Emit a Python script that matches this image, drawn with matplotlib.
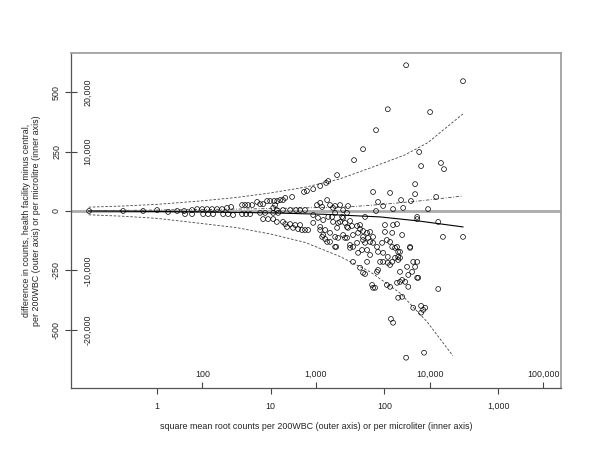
import matplotlib
matplotlib.use("Agg")
import matplotlib.pyplot as plt
import numpy as np

plt.rcParams['font.family'] = ['Liberation Sans', 'DejaVu Sans']

# counts per 200 WBC -> per microlitre (assumed 8000 WBC/ul)
per_ul = 40

# mean count (x) and difference health facility minus central (y)
mean_count = [
    0.252, 0.502, 0.753, 1.0, 1.25, 1.50, 1.73, 1.76, 2.03, 2.03, 2.25, 2.49, 2.54, 2.75, 2.81,
    3.04, 3.11, 3.37, 3.73, 3.81, 4.12, 4.21, 4.48, 4.66, 5.59, 5.94, 6.31, 6.85, 5.59, 6.06,
    6.58, 7.58, 8.05, 8.56, 9.28, 9.86, 10.7, 11.4, 12.1, 12.8, 13.4, 15.4,
    8.05, 8.91, 10.5, 11.6, 8.56, 9.47, 10.5, 11.3, 12.8, 13.4, 14.8, 16.4, 18.1, 18.8, 20.0,
    21.3, 13.9, 15.7, 17.4, 11.3, 12.8, 14.8, 16.7, 18.1, 20.0, 10.5, 10.9,
    19.6, 20.8, 23.6, 27.2, 30.7, 32.0, 38.3, 54.0, 64.8, 84.3, 107, 155, 491, 252, 202, 210,
    314, 334, 186, 186, 285, 79.4, 112, 87.8, 97.3, 140, 171, 146, 119, 242, 84.3,
    25.5, 27.2, 28.3, 31.3, 33.2, 35.3, 40.7, 43.3, 46.8, 23.6, 26.0, 28.9, 32.0, 35.3, 39.1,
    43.3, 46.8, 23.6, 27.2, 30.1, 33.2, 38.3, 28.3, 30.1, 33.2, 37.6, 39.1, 43.3, 46.8, 47.8,
    36.8, 36.8, 34.6, 42.4, 40.7, 45.0, 49.8, 51.8, 47.8,
    67.5, 57.4, 61.0, 61.0, 64.8, 58.6, 52.9, 70.3, 74.7, 64.8, 71.8, 79.4, 74.7, 67.5, 79.4,
    86.0, 95.3, 105, 112, 101, 101, 119, 129, 117, 143, 194, 194, 297, 327, 491, 45.0, 49.8,
    52.9, 58.6, 63.5, 70.3, 74.7, 87.8, 97.3, 107, 124, 129, 132, 132, 117, 107, 97.3, 87.8,
    86.0, 61.0, 52.9, 64.8, 158, 179, 194, 175, 143, 152, 162, 194, 77.8, 79.4, 105, 112, 132,
    143, 297, 168, 132, 27.2, 28.9, 36.8, 67.5, 70.3, 91.5, 112, 124, 137, 137, 117, 168, 186,
    198, 137, 129, 137, 162, 179, 210, 219, 228, 210, 114, 119, 155, 223, 49.8, 57.4, 64.8,
    31.3, 36.8, 82.6,
]
count_diff = [
    0, 0, 0, 4, -4, 0, 0, -13, 4, -13, 8, 8, -13, 8, -13,
    8, -13, 8, 8, -13, 13, -13, 17, -17, 25, 25, 25, 25, -13, -13,
    -13, 38, 29, 29, 42, 42, 42, 42, 46, 46, 55, 59,
    -8, -8, -8, -8, -34, -34, -34, -46, -46, -55, -55, -59, -59, -80, -80,
    -80, -67, -71, -76, 4, 4, 4, 4, 4, 4, 13, 25,
    80, 84, 92, 105, 118, 126, 151, 214, 260, 340, 428, 613, 546, 416, 248, 189,
    202, 176, 113, 71, 59, 80, 76, 38, 21, 46, 42, 13, 8, 8, 0,
    25, 34, 17, 46, 25, 13, 25, 4, -8, -17, -29, -38, -25, -46, -50,
    -29, -67, -50, -67, -80, -92, -71, -109, -118, -130, -151, -113, -101, -113, 21,
    21, -8, -25, -25, -46, -50, -42, -63, -71,
    -25, -63, -59, -76, -84, -92, -101, -92, -88, -109, -113, -109, -130, -134, -134,
    -151, -134, -122, -130, -59, -88, -59, -55, -92, -101, -25, -34, -46, -109, -109, -113, -143,
    -151, -176, -164, -164, -185, -172, -176, -193, -155, -151, -172, -193, -214, -218, -214, -248,
    -256, -239, -214, -260, -235, -214, -214, -256, -290, -298, -319, -281, -311, -323, -311, -319, -365,
    -361, -328, -151, -206, -80, -101, -109, -265, -214, -214, -227, -197, -172, -197, -151, -155, -235,
    -281, -298, -302, -256, -269, -407, -399, -416, -407, -428, -454, -470, -617, -596, -155, -134, -122,
    -130, -151, -323,
]

# fitted lines
mean_line_x = [0.25, 1, 2.4, 10, 30, 92, 200, 490]
mean_line_y = [0, -2, -4, -8, -14, -25, -42, -67]
dashdot_x = [0.25, 1, 2.4, 10, 47, 92, 200, 490]
dashdot_y = [1, 4, 6, 10, 17, 27, 42, 63]
upper_x = [0.25, 0.5, 1, 2.4, 5, 10, 20, 40, 75, 150, 240, 490]
upper_y = [16, 21, 28, 42, 57, 76, 100, 134, 181, 235, 287, 408]
lower_x = [0.25, 0.5, 1, 2.4, 5, 10, 20, 40, 75, 137, 237, 400]
lower_y = [-16, -22, -31, -52, -70, -97, -132, -190, -256, -345, -466, -609]

outer_xticks = [1, 10, 100, 1000]
inner_xticks = [100, 1000, 10000, 100000]
outer_yticks = [-500, -250, 0, 250, 500]
inner_yticks = [-20000, -10000, 10000, 20000]

fs = 6.4
tcol = '#222222'

fig = plt.figure(figsize=(6, 4.5), dpi=100)
ax = fig.add_axes([0.118, 0.138, 0.817, 0.744])

ax.axhline(0, color='#aaaaaa', lw=2, zorder=1)
ax.scatter(mean_count, count_diff, s=12, facecolors='none', edgecolors='black',
           linewidths=0.5, zorder=3)
ax.plot(mean_line_x, mean_line_y, color='black', lw=0.8, zorder=2)
ax.plot(dashdot_x, dashdot_y, color='#444444', lw=0.6, dashes=(4, 2, 1, 2), zorder=2)
ax.plot(upper_x, upper_y, color='#444444', lw=0.6, dashes=(3, 2), zorder=2)
ax.plot(lower_x, lower_y, color='#444444', lw=0.6, dashes=(3, 2), zorder=2)

ax.set_xscale('log')
ax.set_xlim(0.174, 3573)
ax.set_ylim(-744, 664)
ax.minorticks_off()

ax.set_xticks(outer_xticks)
ax.set_xticklabels([f'{v:,}' for v in outer_xticks])
ax.set_yticks(outer_yticks)
ax.set_yticklabels([str(v) for v in outer_yticks])
ax.tick_params(axis='both', direction='out', length=4, width=0.8, color='#444444',
               labelsize=fs, labelcolor=tcol)
ax.tick_params(axis='x', pad=6)
ax.tick_params(axis='y', labelrotation=90, pad=3)
for lab in ax.get_yticklabels():
    lab.set_va('center')

secx = ax.secondary_xaxis('bottom', functions=(lambda x: x * per_ul, lambda x: x / per_ul))
secx.set_xticks(inner_xticks)
secx.set_xticklabels([f'{v:,}' for v in inner_xticks])
secx.minorticks_off()
secx.tick_params(direction='in', length=4, width=0.8, color='#444444', labelsize=fs,
                 labelcolor=tcol, pad=-13)
secy = ax.secondary_yaxis('left', functions=(lambda y: y * per_ul, lambda y: y / per_ul))
secy.set_yticks(inner_yticks)
secy.set_yticklabels([f'{v:,}' for v in inner_yticks])
secy.tick_params(direction='in', length=4, width=0.8, color='#444444', labelsize=fs,
                 labelcolor=tcol, labelrotation=90, pad=-15.5)
for lab in secy.get_yticklabels():
    lab.set_va('center')
for s in secx.spines.values():
    s.set_visible(False)
for s in secy.spines.values():
    s.set_visible(False)

for side in ['top', 'right']:
    ax.spines[side].set_color('#a0a0a0')
    ax.spines[side].set_linewidth(1.3)
for side in ['left', 'bottom']:
    ax.spines[side].set_color('#555555')
    ax.spines[side].set_linewidth(0.9)

ax.set_xlabel('square mean root counts per 200WBC (outer axis) or per microliter (inner axis)',
              fontsize=fs, color=tcol, labelpad=8)
ax.set_ylabel('difference in counts, health facility minus central,\n'
              'per 200WBC (outer axis) or per microlitre (inner axis)',
              fontsize=fs, color=tcol, labelpad=8)

fig.savefig('out.png', dpi=100)
